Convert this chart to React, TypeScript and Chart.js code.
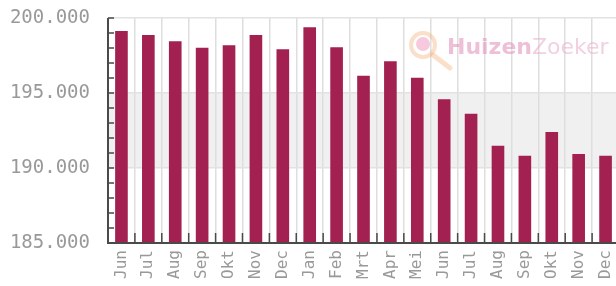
import React, { useEffect, useRef } from "react";
import { Chart, registerables } from "chart.js";

Chart.register(...registerables);

const categories = ["Jun", "Jul", "Aug", "Sep", "Okt", "Nov", "Dec", "Jan", "Feb", "Mrt", "Apr", "Mei", "Jun", "Jul", "Aug", "Sep", "Okt", "Nov", "Dec"];
const prices = [199130, 198870, 198450, 198020, 198180, 198870, 197910, 199380, 198050, 196150, 197110, 196020, 194580, 193620, 191490, 190820, 192400, 190930, 190820];
const yMin = 185000;
const yMax = 200000;
const yStep = 5000;
const yMinorStep = 1000;
const bandFrom = 190000;
const bandTo = 195000;

const fmt = (v: number) => String(Math.round(v)).replace(/\B(?=(\d{3})+(?!\d))/g, ".");

const decorPlugin = {
  id: "decor",
  beforeDraw(chart: any) {
    const { ctx, chartArea, scales } = chart;
    const y = scales.y;
    const top = y.getPixelForValue(bandTo);
    const bot = y.getPixelForValue(bandFrom);
    ctx.save();
    ctx.fillStyle = "#f0f0f0";
    ctx.fillRect(chartArea.left, top, chartArea.right - chartArea.left, bot - top);
    ctx.restore();
  },
  beforeDatasetsDraw(chart: any) {
    const { ctx } = chart;
    ctx.save();
    ctx.globalAlpha = 0.4;
    ctx.strokeStyle = "#f2b27a";
    ctx.lineWidth = 4;
    ctx.beginPath();
    ctx.arc(423, 45, 12, 0, Math.PI * 2);
    ctx.stroke();
    ctx.lineWidth = 5;
    ctx.lineCap = "round";
    ctx.beginPath();
    ctx.moveTo(433, 55);
    ctx.lineTo(450, 68);
    ctx.stroke();
    ctx.fillStyle = "#e87aa8";
    ctx.beginPath();
    ctx.arc(423, 44, 7, 0, Math.PI * 2);
    ctx.fill();
    ctx.globalAlpha = 1;
    ctx.textBaseline = "alphabetic";
    ctx.textAlign = "left";
    ctx.font = "bold 22px 'DejaVu Sans'";
    ctx.fillStyle = "rgba(226,150,188,0.6)";
    ctx.fillText("Huizen", 447, 54);
    const w = ctx.measureText("Huizen").width;
    ctx.font = "22px 'DejaVu Sans'";
    ctx.fillStyle = "rgba(232,170,200,0.55)";
    ctx.fillText("Zoeker", 447 + w, 54);
    ctx.restore();
  },
  afterDatasetsDraw(chart: any) {
    const { ctx, chartArea, scales } = chart;
    const x = scales.x;
    const y = scales.y;
    ctx.save();
    ctx.strokeStyle = "#4a4a4a";
    ctx.lineWidth = 2;
    ctx.beginPath();
    ctx.moveTo(chartArea.left, chartArea.top);
    ctx.lineTo(chartArea.left, chartArea.bottom);
    ctx.lineTo(chartArea.right, chartArea.bottom);
    ctx.stroke();
    ctx.lineWidth = 1.5;
    ctx.beginPath();
    for (let v = yMin + yMinorStep; v <= yMax; v += yMinorStep) {
      const py = y.getPixelForValue(v);
      ctx.moveTo(chartArea.left, py);
      ctx.lineTo(chartArea.left + 6, py);
    }
    for (let i = 0; i < categories.length - 1; i++) {
      const px = (x.getPixelForValue(i) + x.getPixelForValue(i + 1)) / 2;
      ctx.moveTo(px, chartArea.bottom);
      ctx.lineTo(px, chartArea.bottom - 10);
    }
    ctx.stroke();
    ctx.restore();
  },
};

export default function App() {
  const ref = useRef<HTMLCanvasElement>(null);
  useEffect(() => {
    if (!ref.current) return;
    const chart = new Chart(ref.current, {
      type: "bar",
      data: {
        labels: categories,
        datasets: [
          {
            data: prices,
            backgroundColor: "#a32150",
            borderWidth: 0,
            barPercentage: 0.47,
            categoryPercentage: 1,
          },
        ],
      },
      options: {
        animation: false,
        responsive: true,
        maintainAspectRatio: false,
        layout: { padding: { top: 18, right: 0, left: 0, bottom: 0 } },
        plugins: { legend: { display: false }, tooltip: { enabled: false } },
        scales: {
          x: {
            offset: true,
            grid: { offset: true, color: "#dedede", lineWidth: 1.5, drawTicks: false },
            border: { display: false },
            ticks: {
              autoSkip: false,
              minRotation: 90,
              maxRotation: 90,
              padding: 7,
              color: "#999999",
              font: { family: "'DejaVu Sans Mono'", size: 16 },
            },
            afterFit: (s: any) => {
              s.height = 43;
              s.paddingLeft = 0;
              s.paddingRight = 0;
            },
          },
          y: {
            min: yMin,
            max: yMax,
            grid: { color: "#e2e2e2", lineWidth: 1.5, drawTicks: false },
            border: { display: false },
            ticks: {
              stepSize: yStep,
              padding: 18,
              color: "#999999",
              font: { family: "'DejaVu Sans Mono'", size: 19 },
              callback: (v: any) => fmt(Number(v)),
            },
            afterFit: (s: any) => {
              s.width = 108;
              s.paddingTop = 0;
              s.paddingBottom = 0;
            },
          },
        },
      },
      plugins: [decorPlugin],
    });
    return () => chart.destroy();
  }, []);
  return (
    <div style={{ position: "fixed", left: 0, top: 0, width: 616, height: 286, overflow: "hidden", background: "#fff" }}>
      <div style={{ position: "relative", width: 619, height: 286 }}>
        <canvas ref={ref} />
      </div>
    </div>
  );
}
